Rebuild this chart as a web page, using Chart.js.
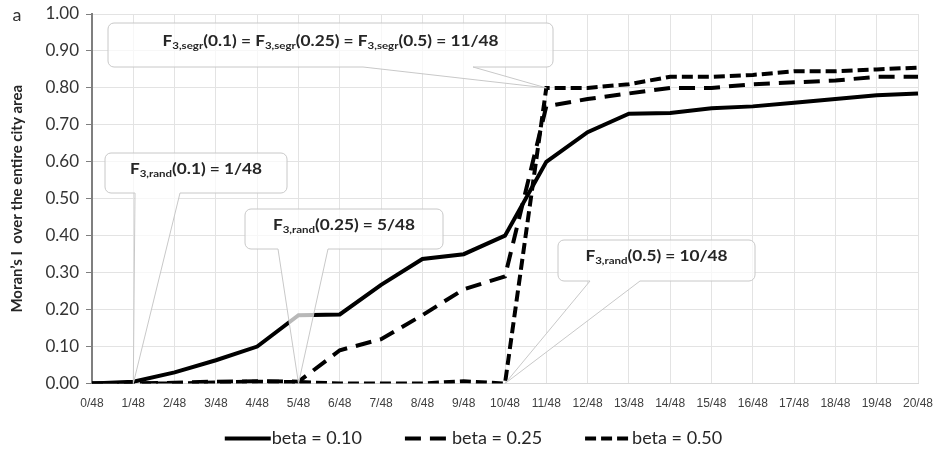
<!DOCTYPE html>
<html>
<head>
<meta charset="utf-8">
<script src="https://cdn.jsdelivr.net/npm/chart.js@4.4.1/dist/chart.umd.min.js"></script>
<style>
html,body{margin:0;padding:0;background:#fff;}
#wrap{width:936px;height:454px;position:relative;}
</style>
</head>
<body>
<div id="wrap"><canvas id="c" width="936" height="454"></canvas></div>
<script>
// ---- data ----
const categories = ['0/48','1/48','2/48','3/48','4/48','5/48','6/48','7/48','8/48','9/48','10/48',
  '11/48','12/48','13/48','14/48','15/48','16/48','17/48','18/48','19/48','20/48'];
const beta010 = [0, 0.005, 0.03, 0.063, 0.10, 0.185, 0.187, 0.267, 0.337, 0.35, 0.40,
  0.60, 0.68, 0.73, 0.732, 0.745, 0.75, 0.76, 0.77, 0.78, 0.785];
const beta025 = [0, 0, 0.002, 0.005, 0.006, 0.005, 0.09, 0.12, 0.185, 0.255, 0.29,
  0.75, 0.77, 0.785, 0.80, 0.80, 0.81, 0.815, 0.82, 0.83, 0.83];
const beta050 = [0, 0, 0, 0.003, 0.005, 0.004, 0, 0, 0, 0.006, 0,
  0.80, 0.80, 0.81, 0.83, 0.83, 0.835, 0.845, 0.845, 0.85, 0.855];
const seriesLabels = ['beta = 0.10', 'beta = 0.25', 'beta = 0.50'];
const yTicks = [0, 0.1, 0.2, 0.3, 0.4, 0.5, 0.6, 0.7, 0.8, 0.9, 1.0];
const yTickLabels = ['0.00','0.10','0.20','0.30','0.40','0.50','0.60','0.70','0.80','0.90','1.00'];
const yTitle = 'Moran\u2019s I  over the entire city area';
const panelLetter = 'a';

const calloutTexts = [
  [['F','n'],['3,segr','s'],['(0.1) = ','n'],['F','n'],['3,segr','s'],['(0.25) = ','n'],['F','n'],['3,segr','s'],['(0.5) = 11/48','n']],
  [['F','n'],['3,rand','s'],['(0.1) = 1/48','n']],
  [['F','n'],['3,rand','s'],['(0.25) = 5/48','n']],
  [['F','n'],['3,rand','s'],['(0.5) = 10/48','n']]
];
const calloutTips = [[11, beta050[11]], [1, 0], [5, 0], [10, 0]];
const calloutBoxes = [[108,23,553,67],[105,153,287,193],[245,209,443,249],[558,240,755,281]];
const calloutBases = [[363,473],[135,180],[278,328],[590,640]];

const FONT = 'Lato, Carlito, "Open Sans", sans-serif';

const calloutPlugin = {
  id: 'callouts',
  afterDatasetsDraw(chart) {
    const {ctx, scales: {x, y}} = chart;
    calloutTexts.forEach((parts, k) => {
      const tx = x.getPixelForValue(calloutTips[k][0]);
      const ty = y.getPixelForValue(calloutTips[k][1]);
      const [l, t, r, b] = calloutBoxes[k];
      const [b1, b2] = calloutBases[k];
      const rad = 6;
      ctx.save();
      ctx.beginPath();
      ctx.moveTo(l + rad, t);
      ctx.lineTo(r - rad, t);
      ctx.arcTo(r, t, r, t + rad, rad);
      ctx.lineTo(r, b - rad);
      ctx.arcTo(r, b, r - rad, b, rad);
      ctx.lineTo(b2, b);
      ctx.lineTo(tx, ty);
      ctx.lineTo(b1, b);
      ctx.lineTo(l + rad, b);
      ctx.arcTo(l, b, l, b - rad, rad);
      ctx.lineTo(l, t + rad);
      ctx.arcTo(l, t, l + rad, t, rad);
      ctx.closePath();
      ctx.fillStyle = 'rgba(255,255,255,0.72)';
      ctx.fill();
      ctx.strokeStyle = '#c8c8c8';
      ctx.lineWidth = 1;
      ctx.stroke();
      const sx = 1.15;
      const nFont = 'bold 15px ' + FONT;
      const sFont = 'bold 10px ' + FONT;
      let total = 0;
      const widths = parts.map(([s, m]) => {
        ctx.font = m === 's' ? sFont : nFont;
        const w = ctx.measureText(s).width;
        total += w;
        return w;
      });
      const base = (t + b) / 2 + 0.5;
      ctx.translate((l + r) / 2, base);
      ctx.scale(sx, 1);
      let cx = -total / 2;
      ctx.fillStyle = '#262626';
      ctx.textBaseline = 'alphabetic';
      ctx.textAlign = 'left';
      parts.forEach(([s, m], i) => {
        ctx.font = m === 's' ? sFont : nFont;
        ctx.fillText(s, cx, m === 's' ? 3 : 0);
        cx += widths[i];
      });
      ctx.restore();
    });
  },
  afterDraw(chart) {
    const ctx = chart.ctx;
    ctx.save();
    // panel letter
    ctx.font = '18px ' + FONT;
    ctx.fillStyle = '#333';
    ctx.textBaseline = 'alphabetic';
    ctx.textAlign = 'left';
    ctx.fillText(panelLetter, 12.5, 21);
    // legend (styles taken from the datasets)
    const ds = chart.data.datasets;
    const lineW = 46, gap = 43, centerX = 473.5, yMid = 438.5;
    ctx.font = '18px ' + FONT;
    const tw = ds.map(d => ctx.measureText(d.label).width);
    const totalW = tw.reduce((a, w) => a + lineW + 1 + w, 0) + gap * (ds.length - 1);
    let x0 = centerX - totalW / 2;
    ds.forEach((d, i) => {
      ctx.save();
      ctx.strokeStyle = d.borderColor;
      ctx.lineWidth = d.borderWidth;
      ctx.lineCap = 'butt';
      ctx.setLineDash(d.borderDash || []);
      ctx.beginPath();
      ctx.moveTo(x0, yMid);
      ctx.lineTo(x0 + lineW, yMid);
      ctx.stroke();
      ctx.restore();
      ctx.fillStyle = '#262626';
      ctx.textBaseline = 'middle';
      ctx.fillText(d.label, x0 + lineW + 1, yMid);
      x0 += lineW + 1 + tw[i] + gap;
    });
    ctx.restore();
  }
};

function build() {
  new Chart(document.getElementById('c'), {
    type: 'line',
    data: {
      labels: categories,
      datasets: [
        {label: seriesLabels[0], data: beta010, borderColor: '#000', backgroundColor: '#000', borderWidth: 4, borderDash: []},
        {label: seriesLabels[1], data: beta025, borderColor: '#000', backgroundColor: '#000', borderWidth: 4, borderDash: [16, 9]},
        {label: seriesLabels[2], data: beta050, borderColor: '#000', backgroundColor: '#000', borderWidth: 4, borderDash: [11, 5]}
      ]
    },
    options: {
      responsive: false,
      animation: false,
      devicePixelRatio: 1,
      layout: {padding: {left: 28, right: 18, top: 14, bottom: 43.5}},
      elements: {
        line: {tension: 0, borderCapStyle: 'butt', borderJoinStyle: 'miter'},
        point: {radius: 0, hoverRadius: 0}
      },
      plugins: {
        tooltip: {enabled: false},
        legend: {display: false}
      },
      scales: {
        x: {
          type: 'category',
          offset: false,
          afterFit: (s) => { s.height = 27; },
          grid: {color: '#e3e3e3', drawTicks: true, tickLength: 12, tickColor: 'rgba(0,0,0,0)', offset: false},
          border: {color: '#d8d8d8', width: 1},
          ticks: {color: '#404040', font: {family: '"Liberation Sans", Arial, sans-serif', size: 12}, padding: 1, maxRotation: 0, autoSkip: false}
        },
        y: {
          min: 0,
          max: 1,
          afterFit: (s) => { s.width = 64; },
          afterBuildTicks: (s) => { s.ticks = yTicks.map(v => ({value: v})); },
          grid: {color: '#e3e3e3', tickColor: '#7f7f7f', tickLength: 6},
          border: {color: '#7f7f7f', width: 2},
          ticks: {
            color: '#333',
            font: {family: FONT, size: 17, lineHeight: 0.8},
            padding: 7,
            callback: (v, i) => yTickLabels[i]
          },
          title: {
            display: true,
            text: yTitle,
            color: '#262626',
            font: {family: FONT, size: 15, weight: 'bold'},
            padding: {top: -20, bottom: 0}
          }
        }
      }
    },
    plugins: [calloutPlugin]
  });
}

Promise.all([
  document.fonts.load('15px Lato'),
  document.fonts.load('bold 15px Lato'),
  document.fonts.load('18px Lato'),
  document.fonts.load('12px "Liberation Sans"')
]).then(build, build);
</script>
</body>
</html>
